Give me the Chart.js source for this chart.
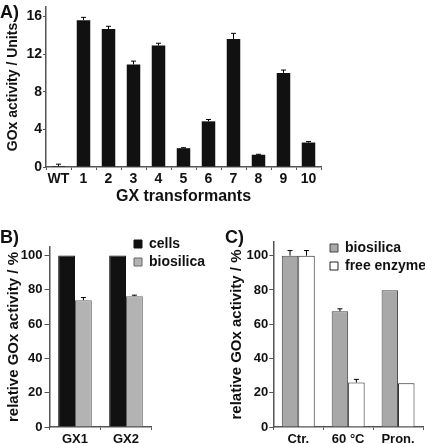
<!DOCTYPE html>
<html>
<head>
<meta charset="utf-8">
<script src="https://cdn.jsdelivr.net/npm/chart.js@4.4.1/dist/chart.umd.min.js"></script>
<style>
body { margin: 0; background: #fff; }
#wrap { position: relative; width: 425px; height: 444px; overflow: hidden; font-family: 'Liberation Sans', Arial, sans-serif; font-weight: bold; color: #111; }
canvas { position: absolute; }
.tag { position: absolute; font-size: 18px; line-height: 1; }
</style>
</head>
<body>
<div id="wrap">
  <canvas id="chartA" width="425" height="215" style="left:0;top:0"></canvas>
  <canvas id="chartB" width="212" height="222" style="left:0;top:222px"></canvas>
  <canvas id="chartC" width="213" height="222" style="left:212px;top:222px"></canvas>
  <div class="tag" style="left:0;top:3px">A)</div>
  <div class="tag" style="left:0;top:228px">B)</div>
  <div class="tag" style="left:225px;top:228px">C)</div>
</div>
<script>
// panel A
const transformants = ['WT', '1', '2', '3', '4', '5', '6', '7', '8', '9', '10'];
const goxUnits = [0.1, 15.6, 14.65, 10.9, 12.9, 2.0, 4.85, 13.6, 1.3, 10.0, 2.6];
const goxUnitsErr = [0.2, 0.3, 0.3, 0.35, 0.25, 0.05, 0.2, 0.6, 0.05, 0.3, 0.1];

// panel B
const strains = ['GX1', 'GX2'];
const cellsPct = [100, 100];
const biosilicaPct = [74, 76.3];
const biosilicaPctErr = [1.5, 0.6];

// panel C
const treatments = ['Ctr.', '60 °C', 'Pron.'];
const biosilicaTreated = [100, 67.6, 79.8];
const biosilicaTreatedErr = [3, 1.4, 0];
const freeEnzyme = [100, 26, 25.6];
const freeEnzymeErr = [3, 1.8, 0];

const FONT = "'Liberation Sans', Arial, sans-serif";
const bold = size => ({family: FONT, size: size, weight: 'bold'});
const AXIS = '#555';

// upward error bars with a small cap
const errorBars = {
    id: 'errorBars',
    afterDatasetsDraw(chart) {
        const ctx = chart.ctx;
        const y = chart.scales.y;
        chart.data.datasets.forEach((ds, i) => {
            if (!ds.errors) return;
            chart.getDatasetMeta(i).data.forEach((bar, j) => {
                const err = ds.errors[j];
                if (!err) return;
                const top = y.getPixelForValue(ds.data[j] + err);
                ctx.save();
                ctx.strokeStyle = '#000';
                ctx.lineWidth = 1;
                ctx.beginPath();
                ctx.moveTo(bar.x, bar.y);
                ctx.lineTo(bar.x, top);
                ctx.moveTo(bar.x - 2.5, top);
                ctx.lineTo(bar.x + 2.5, top);
                ctx.stroke();
                ctx.restore();
            });
        });
    }
};

// move the legend to a fixed spot inside the canvas
const placeLegend = {
    id: 'placeLegend',
    afterLayout(chart, args, opts) {
        const l = chart.legend;
        if (!l || opts.x === undefined) return;
        l.left = opts.x;
        l.top = opts.y;
        l.right = opts.x + l.width;
        l.bottom = opts.y + l.height;
    }
};

const fixSize = (w, h) => scale => {
    if (w !== undefined) scale.width = w;
    if (h !== undefined) scale.height = h;
    scale.paddingTop = 0;
    scale.paddingBottom = 0;
    scale.paddingLeft = 0;
    scale.paddingRight = 0;
};

const baseOptions = {
    responsive: false,
    animation: false,
    events: [],
    plugins: {
        tooltip: {enabled: false},
    },
};

const legendOpts = {
    display: true,
    position: 'chartArea',
    align: 'start',
    labels: {
        font: bold(14),
        color: '#111',
        boxWidth: 8,
        boxHeight: 8,
        padding: 4,
    },
};

const xTicks = size => ({font: bold(size), color: '#111', padding: 2, maxRotation: 0, minRotation: 0, autoSkip: false});

new Chart(document.getElementById('chartA'), {
    type: 'bar',
    data: {
        labels: transformants,
        datasets: [{
            data: goxUnits,
            errors: goxUnitsErr,
            backgroundColor: '#111',
            borderWidth: 0,
            categoryPercentage: 1,
            barPercentage: 0.54,
        }],
    },
    options: {
        ...baseOptions,
        layout: {padding: {left: 0, top: 7, right: 104, bottom: 0}},
        plugins: {...baseOptions.plugins, legend: {display: false}},
        scales: {
            x: {
                grid: {drawOnChartArea: false, tickLength: 3, color: AXIS, offset: true},
                border: {color: AXIS, width: 1.5},
                ticks: {...xTicks(14), padding: 1},
                title: {display: true, text: 'GX transformants', font: bold(16), color: '#111', padding: {top: 0, bottom: 9}},
                afterFit: fixSize(undefined, 48),
            },
            y: {
                min: 0,
                max: 17,
                ticks: {stepSize: 4, includeBounds: false, font: bold(14), color: '#111', padding: 1},
                grid: {drawOnChartArea: false, tickLength: 3, color: AXIS},
                border: {color: AXIS, width: 1.5},
                title: {display: true, text: 'GOx activity / Units', font: bold(14), color: '#111', padding: {top: 5, bottom: 0}},
                afterFit: fixSize(46, undefined),
            },
        },
    },
    plugins: [errorBars],
});

new Chart(document.getElementById('chartB'), {
    type: 'bar',
    data: {
        labels: strains,
        datasets: [{
            label: 'cells',
            data: cellsPct,
            backgroundColor: '#111',
            borderColor: '#111',
            borderWidth: 1,
            categoryPercentage: 0.66,
            barPercentage: 1,
        }, {
            label: 'biosilica',
            data: biosilicaPct,
            errors: biosilicaPctErr,
            backgroundColor: '#b3b3b3',
            borderColor: '#666',
            borderWidth: 1,
            categoryPercentage: 0.66,
            barPercentage: 1,
        }],
    },
    options: {
        ...baseOptions,
        layout: {padding: {left: 0, top: 25, right: 60.5, bottom: 0}},
        plugins: {...baseOptions.plugins, legend: legendOpts, placeLegend: {x: 130, y: 11}},
        scales: {
            x: {
                grid: {drawOnChartArea: false, tickLength: 3, color: AXIS, offset: true},
                border: {color: AXIS, width: 1.5},
                ticks: xTicks(13),
                afterFit: fixSize(undefined, 17),
            },
            y: {
                min: 0,
                max: 105,
                ticks: {stepSize: 20, includeBounds: false, font: bold(13), color: '#111', padding: 2},
                grid: {drawOnChartArea: false, tickLength: 5, color: AXIS},
                border: {color: AXIS, width: 1.5},
                title: {display: true, text: 'relative GOx activity / %', font: bold(15), color: '#111', padding: {top: 5, bottom: 0}},
                afterFit: fixSize(49.5, undefined),
            },
        },
    },
    plugins: [errorBars, placeLegend],
});

new Chart(document.getElementById('chartC'), {
    type: 'bar',
    data: {
        labels: treatments,
        datasets: [{
            label: 'biosilica',
            data: biosilicaTreated,
            errors: biosilicaTreatedErr,
            backgroundColor: '#a8a8a8',
            borderColor: '#444',
            borderWidth: 1,
            categoryPercentage: 0.66,
            barPercentage: 1,
        }, {
            label: 'free enzyme',
            data: freeEnzyme,
            errors: freeEnzymeErr,
            backgroundColor: '#fff',
            borderColor: '#222',
            borderWidth: 1,
            categoryPercentage: 0.66,
            barPercentage: 1,
        }],
    },
    options: {
        ...baseOptions,
        layout: {padding: {left: 0, top: 20, right: 2, bottom: 0}},
        plugins: {...baseOptions.plugins, legend: legendOpts, placeLegend: {x: 114, y: 15}},
        scales: {
            x: {
                grid: {drawOnChartArea: false, tickLength: 3, color: AXIS, offset: true},
                border: {color: AXIS, width: 1.5},
                ticks: xTicks(13),
                afterFit: fixSize(undefined, 17),
            },
            y: {
                min: 0,
                max: 108,
                ticks: {stepSize: 20, includeBounds: false, font: bold(13), color: '#111', padding: 1},
                grid: {drawOnChartArea: false, tickLength: 4, color: AXIS},
                border: {color: AXIS, width: 1.5},
                title: {display: true, text: 'relative GOx activity / %', font: bold(15), color: '#111', padding: {top: 16, bottom: 0}},
                afterFit: fixSize(61.3, undefined),
            },
        },
    },
    plugins: [errorBars, placeLegend],
});
</script>
</body>
</html>
